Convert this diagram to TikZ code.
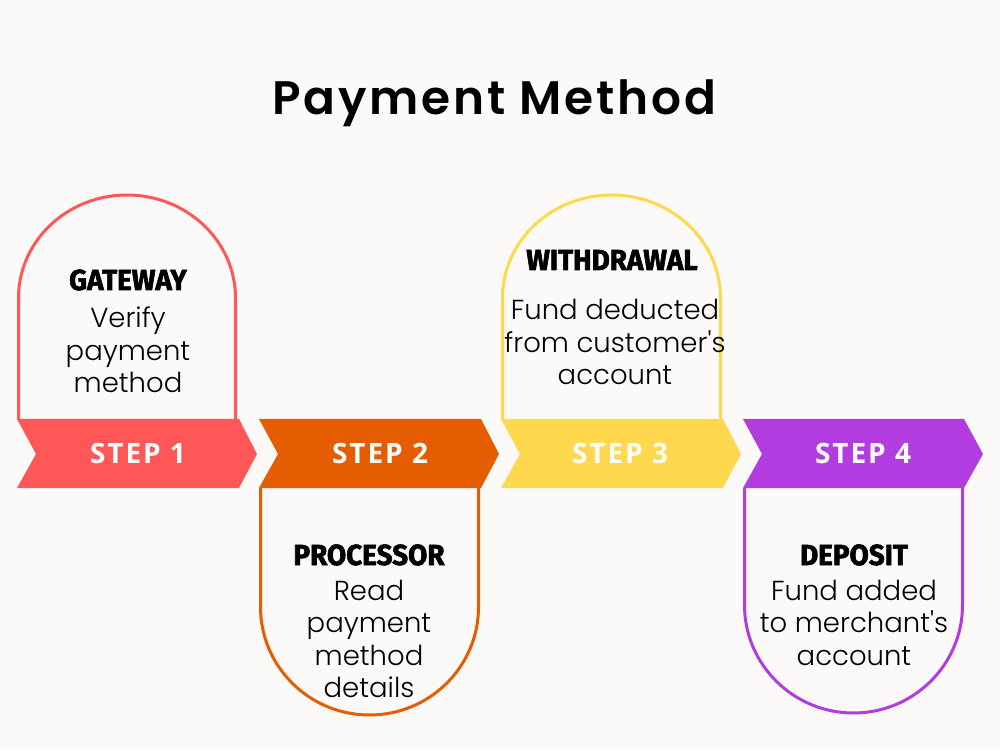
\documentclass[tikz,border=0pt]{standalone}
\usepackage{fontspec}
\newfontfamily\titlefont[LetterSpace=6]{Poppins SemiBold}
\newfontfamily\headfont[FakeStretch=0.96,FakeBold=2]{Fira Sans}
\newfontfamily\stepfont[LetterSpace=7]{Open Sans}
\newfontfamily\bodyfont{Poppins Light}
\definecolor{bg}{HTML}{FCFAF8}
\definecolor{cred}{HTML}{FF5757}
\definecolor{corange}{HTML}{E65C00}
\definecolor{cyellow}{HTML}{FFD84D}
\definecolor{cpurple}{HTML}{B23CE0}
\begin{document}
\begin{tikzpicture}[x=1pt,y=1pt,
  card/.style={line width=3pt, fill=bg},
  steplabel/.style={text=white, font=\stepfont\bfseries\fontsize{28}{30}\selectfont, anchor=base, inner sep=0pt},
  heading/.style={text=black, font=\headfont\bfseries\fontsize{29}{32}\selectfont, anchor=base, inner sep=0pt},
  body/.style={text=black, font=\bodyfont\fontsize{27.5}{32.5}\selectfont, align=center, anchor=base, inner sep=0pt},
  titletext/.style={text=black, font=\titlefont\fontsize{47}{50}\selectfont, anchor=base, inner sep=0pt}]
\useasboundingbox (0,0) rectangle (1000,750);
\fill[bg] (0,0) rectangle (1000,750);

\node[titletext] (title) at (494,635) {Payment Method};

% cards
\draw[card, draw=cred] (18.5,330) -- (18.5,452) arc[start angle=180, end angle=0, x radius=108.5, y radius=103] -- (235.5,330);
\draw[card, draw=corange] (260.5,262) -- (260.5,143) arc[start angle=180, end angle=360, x radius=109, y radius=108] -- (478.5,262);
\draw[card, draw=cyellow] (502.5,330) -- (502.5,452) arc[start angle=180, end angle=0, x radius=109, y radius=103] -- (720.5,330);
\draw[card, draw=cpurple] (744.5,262) -- (744.5,145) arc[start angle=180, end angle=360, x radius=109, y radius=108] -- (962.5,262);

% banners
\fill[cred] (17,331) -- (239,331) -- (257,296) -- (239,262) -- (17,262) -- (36,296) -- cycle;
\fill[corange] (259,331) -- (481,331) -- (499,296) -- (481,262) -- (259,262) -- (278,296) -- cycle;
\fill[cyellow] (501,331) -- (723,331) -- (741,296) -- (723,262) -- (501,262) -- (520,296) -- cycle;
\fill[cpurple] (743,331) -- (964,331) -- (983,296) -- (964,262) -- (743,262) -- (762,296) -- cycle;

\node[steplabel] (s1) at (138,287) {STEP 1};
\node[steplabel] (s2) at (380,287) {STEP 2};
\node[steplabel] (s3) at (620,287) {STEP 3};
\node[steplabel] (s4) at (863,287) {STEP 4};

\node[heading] (h1) at (128,460) {GATEWAY};
\node[body] (b1) at (128,357) {Verify\\payment\\method};
\node[heading] (h2) at (369,185) {PROCESSOR};
\node[body] (b2) at (369,52.5) {Read\\payment\\method\\details};
\node[heading] (h3) at (612,480) {WITHDRAWAL};
\node[body] (b3) at (615,365) {Fund deducted\\from customer's\\account};
\node[heading] (h4) at (854,185) {DEPOSIT};
\node[body] (b4) at (854,85) {Fund added\\to merchant's\\account};
\end{tikzpicture}
\end{document}
